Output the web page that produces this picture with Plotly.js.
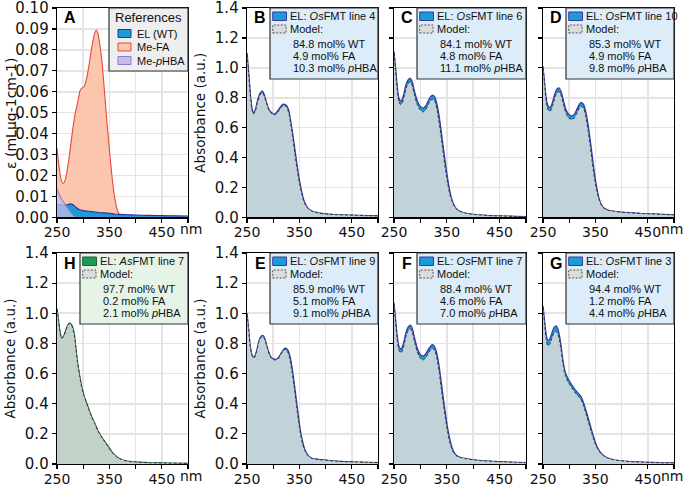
<!DOCTYPE html>
<html><head><meta charset="utf-8">
<script src="https://cdn.plot.ly/plotly-3.0.1.min.js"></script>
<style>html,body{margin:0;padding:0;background:#fff}#chart{width:685px;height:487px}</style>
</head><body><div id="chart"></div>
<script>
// ---------- Panel A: reference spectra ----------
const wlFA  = [250,253,256,259,262.5,266,270,275,280,285,290,294,298,302,306,310,314,318,322,325,328,332,336,340,344,348,352,356,360,364,368,374,400,500];
const epsFA = [0.033,0.026,0.0205,0.017,0.0163,0.018,0.0235,0.032,0.042,0.050,0.0555,0.0605,0.0618,0.0625,0.0658,0.071,0.0775,0.0835,0.088,0.0895,0.088,0.082,0.074,0.062,0.0495,0.038,0.027,0.017,0.0095,0.0045,0.0018,0.0003,0,0];
const wlWT  = [250,256,262,266,270,274,278,282,286,290,295,300,310,320,330,340,350,360,370,385,400,425,450,475,500];
const epsWT = [0.0062,0.0061,0.006,0.0058,0.006,0.0064,0.0063,0.0058,0.0048,0.0041,0.0035,0.0032,0.0029,0.0026,0.0023,0.0021,0.0019,0.0016,0.0014,0.0012,0.0011,0.0009,0.0008,0.0007,0.0006];
const wlPH  = [250,254,258,262,266,270,274,278,282,286,290,300,350,400,500];
const epsPH = [0.0135,0.011,0.009,0.0075,0.006,0.0045,0.003,0.0017,0.0008,0.0003,0.0001,0,0,0,0];
const refNames = ['EL (WT)','Me-FA','Me-<i>p</i>HBA'];

// ---------- Panels B-H: EL spectra and model fits ----------
const wlB = [250,253,256,259,262,266,270,275,279,283,287,292,297,303,308,313,318,322,326,330,334,338,342,346,350,354,358,362,366,370,376,386,400,420,440,460,480,500];
const elB = [1.10,0.98,0.84,0.74,0.70,0.72,0.78,0.83,0.845,0.82,0.77,0.72,0.70,0.69,0.71,0.735,0.755,0.756,0.745,0.71,0.63,0.54,0.44,0.34,0.25,0.178,0.12,0.085,0.063,0.05,0.038,0.029,0.022,0.018,0.015,0.013,0.011,0.009];
const mdB = [1.09,0.97,0.83,0.73,0.69,0.71,0.77,0.82,0.835,0.81,0.765,0.715,0.695,0.685,0.70,0.725,0.745,0.748,0.735,0.695,0.61,0.515,0.41,0.315,0.23,0.165,0.11,0.08,0.06,0.049,0.038,0.029,0.022,0.018,0.015,0.013,0.011,0.009];

const wlC = [250,253,256,259,262,265,269,273,277,281,285,289,294,299,305,310,315,320,324,328,332,336,340,344,348,352,356,360,364,368,374,386,400,420,440,460,480,500];
const elC = [1.11,1.0,0.88,0.80,0.78,0.785,0.83,0.89,0.92,0.93,0.90,0.84,0.78,0.745,0.73,0.745,0.78,0.81,0.816,0.80,0.745,0.665,0.56,0.45,0.345,0.25,0.17,0.115,0.08,0.058,0.042,0.027,0.02,0.014,0.01,0.008,0.006,0.004];
const mdC = [1.10,0.98,0.86,0.775,0.755,0.76,0.805,0.865,0.895,0.905,0.875,0.815,0.755,0.72,0.705,0.72,0.755,0.785,0.79,0.77,0.71,0.625,0.52,0.41,0.31,0.22,0.15,0.105,0.075,0.056,0.041,0.027,0.02,0.014,0.01,0.008,0.006,0.004];

const wlD = wlC;
const elD = [1.01,0.90,0.80,0.75,0.735,0.74,0.78,0.83,0.86,0.865,0.835,0.78,0.72,0.69,0.678,0.69,0.725,0.76,0.767,0.75,0.70,0.62,0.52,0.41,0.30,0.21,0.14,0.095,0.07,0.058,0.048,0.04,0.034,0.029,0.025,0.022,0.019,0.016];
const mdD = [1.0,0.89,0.78,0.725,0.71,0.715,0.755,0.805,0.835,0.84,0.81,0.755,0.695,0.665,0.655,0.665,0.70,0.735,0.742,0.725,0.67,0.585,0.48,0.37,0.27,0.19,0.13,0.09,0.068,0.056,0.047,0.04,0.034,0.029,0.025,0.022,0.019,0.016];

const wlE = wlC;
const elE = [1.0,0.90,0.79,0.73,0.71,0.715,0.76,0.82,0.848,0.852,0.82,0.77,0.72,0.70,0.694,0.705,0.735,0.762,0.769,0.755,0.715,0.64,0.54,0.43,0.32,0.22,0.15,0.10,0.07,0.052,0.038,0.031,0.026,0.019,0.015,0.013,0.011,0.009];
const mdE = [0.995,0.895,0.785,0.725,0.705,0.71,0.755,0.815,0.842,0.846,0.815,0.765,0.715,0.695,0.69,0.70,0.73,0.755,0.76,0.74,0.695,0.61,0.51,0.40,0.295,0.20,0.135,0.092,0.066,0.05,0.037,0.03,0.025,0.019,0.015,0.013,0.011,0.009];

const wlF = wlC;
const elF = [1.07,0.96,0.85,0.785,0.765,0.77,0.815,0.875,0.91,0.922,0.895,0.835,0.77,0.73,0.716,0.73,0.76,0.785,0.791,0.77,0.72,0.635,0.53,0.42,0.32,0.23,0.16,0.108,0.075,0.058,0.045,0.035,0.028,0.021,0.017,0.014,0.011,0.009];
const mdF = [1.06,0.94,0.83,0.76,0.74,0.745,0.79,0.85,0.885,0.897,0.87,0.81,0.745,0.705,0.69,0.705,0.735,0.76,0.766,0.745,0.69,0.60,0.49,0.385,0.29,0.205,0.14,0.097,0.07,0.055,0.044,0.035,0.028,0.021,0.017,0.014,0.011,0.009];

const wlG = [250,253,256,259,263,267,271,275,279,282,285,288,292,297,302,307,312,317,322,327,332,337,342,347,352,357,362,368,375,385,400,420,440,460,480,500];
const elG = [1.05,0.95,0.86,0.82,0.83,0.87,0.905,0.916,0.89,0.84,0.77,0.69,0.615,0.57,0.54,0.515,0.49,0.47,0.45,0.41,0.355,0.295,0.235,0.175,0.125,0.09,0.068,0.05,0.038,0.028,0.021,0.015,0.012,0.01,0.008,0.007];
const mdG = [1.04,0.93,0.83,0.785,0.795,0.835,0.87,0.88,0.855,0.81,0.745,0.67,0.595,0.55,0.52,0.495,0.47,0.45,0.43,0.39,0.335,0.275,0.215,0.16,0.115,0.085,0.065,0.049,0.037,0.028,0.021,0.015,0.012,0.01,0.008,0.007];

const wlH = [250,253,256,259,263,267,271,275,279,283,286,289,293,297,301,306,311,316,322,328,335,341,348,354,360,366,373,380,390,405,430,460,500];
const elH = [1.03,0.95,0.87,0.835,0.85,0.89,0.925,0.935,0.915,0.86,0.77,0.68,0.59,0.515,0.46,0.41,0.36,0.315,0.27,0.222,0.18,0.15,0.115,0.084,0.06,0.043,0.03,0.022,0.016,0.012,0.008,0.006,0.004];
const mdH = [1.03,0.948,0.868,0.833,0.848,0.888,0.922,0.932,0.912,0.857,0.768,0.678,0.588,0.513,0.458,0.408,0.358,0.313,0.268,0.22,0.178,0.148,0.113,0.082,0.059,0.042,0.03,0.022,0.016,0.012,0.008,0.006,0.004];

const specLetters = ['B','C','D','H','E','F','G'];
const specLines   = ['<i>Os</i>FMT line 4','<i>Os</i>FMT line 6','<i>Os</i>FMT line 10','<i>As</i>FMT line 7','<i>Os</i>FMT line 9','<i>Os</i>FMT line 7','<i>Os</i>FMT line 3'];
const molWT   = ['84.8','84.1','85.3','97.7','85.9','88.4','94.4'];
const molFA   = ['4.9','4.8','4.9','0.2','5.1','4.6','1.2'];
const molPHBA = ['10.3','11.1','9.8','2.1','9.1','7.0','4.4'];
const specWl = [wlB,wlC,wlD,wlH,wlE,wlF,wlG];
const specEL = [elB,elC,elD,elH,elE,elF,elG];
const specMD = [mdB,mdC,mdD,mdH,mdE,mdF,mdG];

const xTickVals = [250,300,350,400,450,500];
const xTickText = ['250','','350','','450',''];

// ---------- layout helpers ----------
const W = 685, H = 487;
const px = v => v / W;
const py = v => 1 - v / H;
const frames = {
  A:[57,188,8,217.3], B:[247,378,8,217.3], C:[394,526,8,217.3], D:[543,674,8,217.3],
  H:[57,188,253,464], E:[247,378,253,464], F:[394,526,253,464], G:[543,674,253,464]
};
const order = ['A','B','C','D','H','E','F','G'];
const suffix = l => { const i = order.indexOf(l); return i === 0 ? '' : String(i + 1); };

const tickFont = {family:'DejaVu Sans', size:15, color:'#111'};
const xTickFont = {family:'DejaVu Sans', size:14, color:'#111'};
const legFont = {family:'Liberation Sans, Arial', size:11, color:'#111'};

const layout = {
  width:W, height:H, margin:{l:0,r:0,t:0,b:0},
  paper_bgcolor:'#fff', plot_bgcolor:'#fff', showlegend:false,
  shapes:[], annotations:[]
};
const traces = [];

order.forEach(l => {
  const s = suffix(l), f = frames[l];
  const showY = (l === 'A' || l === 'B' || l === 'E' || l === 'H');
  layout['xaxis'+s] = {
    domain:[px(f[0]), px(f[1])], range:[250,500], anchor:'y'+s,
    tickvals:xTickVals, ticktext:xTickText, ticks:'outside', ticklen:4, tickwidth:1.2, tickcolor:'#000',
    showline:true, mirror:true, linecolor:'#000', linewidth:1.3, ticklabeloverflow:'allow', ticklabelstandoff:-2,
    showgrid:true, gridcolor:'#e4e4e4', gridwidth:1.6, zeroline:false, tickfont:xTickFont, fixedrange:true
  };
  const ya = {
    domain:[py(f[3]), py(f[2])], anchor:'x'+s,
    ticks:'outside', ticklen:4, tickwidth:1.2, tickcolor:'#000',
    showline:true, mirror:true, linecolor:'#000', linewidth:1.3, ticklabeloverflow:'allow',
    showgrid:true, gridcolor:'#e4e4e4', gridwidth:1.6, zeroline:false, tickfont:tickFont,
    showticklabels:showY, fixedrange:true
  };
  if (l === 'A') { ya.range = [0,0.1]; ya.dtick = 0.01; ya.tick0 = 0; ya.tickformat = '.2f'; }
  else { ya.range = [0,1.4]; ya.dtick = 0.2; ya.tick0 = 0; ya.tickformat = '.1f'; }
  if (l === 'B' || l === 'E' || l === 'H') {
    ya.title = {text:'Absorbance (a.u.)', font:{family:'DejaVu Sans', size:13.5, color:'#111'}, standoff:6};
  }
  layout['yaxis'+s] = ya;
  // panel letter
  layout.annotations.push({x:px(f[0]+13), y:py(f[2]+10), xref:'paper', yref:'paper', text:'<b>'+l+'</b>',
    showarrow:false, xanchor:'center', yanchor:'middle', font:{family:'Liberation Sans, Arial', size:16, color:'#000'}});
});

// "nm" unit labels
[['A',191,229,'center'],['D',685,229,'right'],['H',191,476,'center'],['G',685,476,'right']].forEach(a => {
  layout.annotations.push({x:px(a[1]), y:py(a[2]), xref:'paper', yref:'paper', text:'nm', showarrow:false,
    xanchor:a[3], yanchor:'middle', borderpad:0, font:xTickFont});
});

// y-title of panel A
layout.annotations.push({x:px(11), y:py(114), xref:'paper', yref:'paper', text:'ε (mLµg-1cm-1)', textangle:-90,
  showarrow:false, xanchor:'center', yanchor:'middle', font:{family:'DejaVu Sans', size:14, color:'#111'}});

// ---------- Panel A traces ----------
traces.push({x:wlFA, y:epsFA, xaxis:'x', yaxis:'y', type:'scatter', mode:'lines', fill:'tozeroy',
  fillcolor:'#fcc5ad', line:{color:'#e8473c', width:1.1, shape:'spline', smoothing:0.6}, hoverinfo:'skip'});
traces.push({x:wlWT, y:epsWT, xaxis:'x', yaxis:'y', type:'scatter', mode:'lines', fill:'tozeroy',
  fillcolor:'#1b9bd6', line:{color:'#2f2f9a', width:1.1, shape:'spline', smoothing:0.6}, hoverinfo:'skip'});
traces.push({x:wlPH, y:epsPH, xaxis:'x', yaxis:'y', type:'scatter', mode:'lines', fill:'tozeroy',
  fillcolor:'rgba(200,188,232,0.75)', line:{color:'#8a7cd0', width:1.1, shape:'spline', smoothing:0.6}, hoverinfo:'skip'});

// Panel A legend
(function(){
  const f = frames.A, x0 = 109, x1 = f[1], y0 = f[2], y1 = 71;
  layout.shapes.push({type:'rect', xref:'paper', yref:'paper', x0:px(x0), x1:px(x1), y0:py(y1), y1:py(y0),
    fillcolor:'#eeeeee', line:{color:'#333', width:1.2}});
  layout.annotations.push({x:px(148), y:py(17), xref:'paper', yref:'paper', text:'References', showarrow:false,
    xanchor:'center', yanchor:'middle', font:{family:'Liberation Sans, Arial', size:13, color:'#111'}});
  const sw = [['#1b9bd6','#2f2f9a'],['#fcc5ad','#e8473c'],['#c8bce8','#8a7cd0']];
  const rows = [33.5, 47, 60.5];
  rows.forEach((r,i) => {
    layout.shapes.push({type:'rect', xref:'paper', yref:'paper', x0:px(118), x1:px(131), y0:py(r+4), y1:py(r-4),
      fillcolor:sw[i][0], line:{color:sw[i][1], width:1}});
    layout.annotations.push({x:px(135), y:py(r), xref:'paper', yref:'paper', text:refNames[i], showarrow:false,
      xanchor:'left', yanchor:'middle', font:legFont});
  });
})();

// ---------- Panels B-H ----------
specLetters.forEach((l, i) => {
  const s = suffix(l), f = frames[l];
  const green = (l === 'H');
  const elFill = green ? '#1c9a55' : '#1b9bd6';
  const elLine = green ? '#1d5e34' : '#3a3aa6';
  traces.push({x:specWl[i], y:specEL[i], xaxis:'x'+s, yaxis:'y'+s, type:'scatter', mode:'lines', fill:'tozeroy',
    fillcolor:elFill, line:{color:elLine, width:1.3, shape:'spline', smoothing:0.6}, hoverinfo:'skip'});
  traces.push({x:specWl[i], y:specMD[i], xaxis:'x'+s, yaxis:'y'+s, type:'scatter', mode:'lines', fill:'tozeroy',
    fillcolor:'rgba(218,218,218,0.88)', line:{color:'#333', width:1, dash:'3px,2px', shape:'spline', smoothing:0.6}, hoverinfo:'skip'});

  // legend box
  const bx0 = f[0] + 23, bx1 = f[1], by0 = f[2], by1 = f[2] + 71;
  layout.shapes.push({type:'rect', xref:'paper', yref:'paper', x0:px(bx0), x1:px(bx1), y0:py(by1), y1:py(by0),
    fillcolor: green ? '#e6f4e7' : '#dcecf8', line:{color:'#333', width:1.2}});
  layout.shapes.push({type:'rect', xref:'paper', yref:'paper', x0:px(f[0]+25.7), x1:px(f[0]+39.5), y0:py(by0+12.5), y1:py(by0+4),
    fillcolor:elFill, line:{color:elLine, width:1}});
  layout.shapes.push({type:'rect', xref:'paper', yref:'paper', x0:px(f[0]+25.7), x1:px(f[0]+39), y0:py(by0+25), y1:py(by0+17),
    fillcolor:'#dcdcdc', line:{color:'#555', width:1, dash:'2px,1.5px'}});
  const ann = (xr, yr, t) => layout.annotations.push({x:px(f[0]+xr), y:py(by0+yr), xref:'paper', yref:'paper', text:t,
    showarrow:false, xanchor:'left', yanchor:'middle', font:legFont});
  ann(41, 8.3, 'EL: ' + specLines[i]);
  ann(41, 21, 'Model:');
  ann(44, 36, molWT[i] + ' mol% WT');
  ann(44, 48, molFA[i] + ' mol% FA');
  ann(44, 60, molPHBA[i] + ' mol% <i>p</i>HBA');
});

Plotly.newPlot('chart', traces, layout, {displayModeBar:false, staticPlot:true});
</script>
</body></html>
